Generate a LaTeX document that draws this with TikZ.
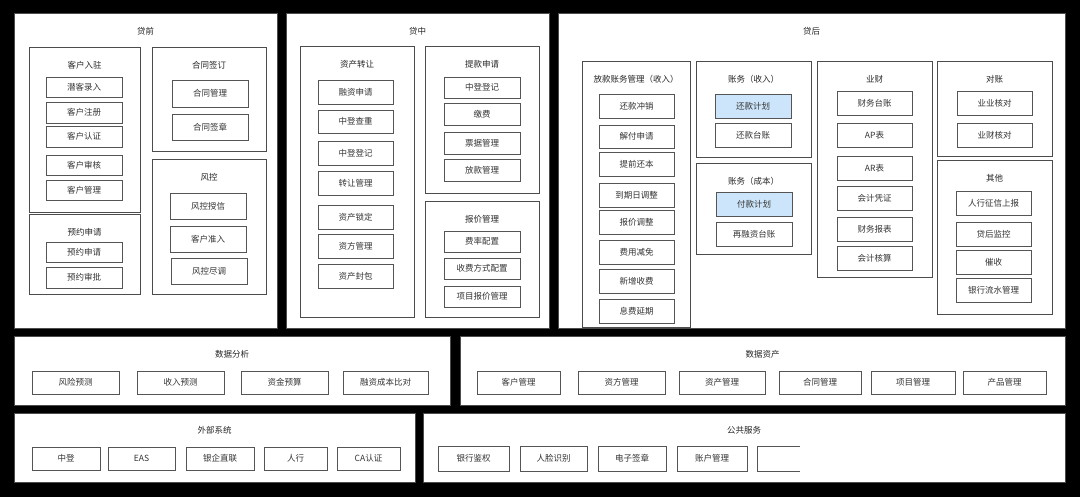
\documentclass[tikz,border=0pt]{standalone}
\usepackage{fontspec}
\setmainfont{Noto Sans CJK SC}
\definecolor{ln}{HTML}{555555}
\definecolor{hl}{HTML}{CCE5FA}
\tikzset{
  itm/.style={draw=ln,line width=0.9pt,fill=white,inner sep=0pt,outer sep=0pt,font=\fontsize{8.5}{10}\selectfont,text=black!80},
  panel/.style={itm,draw=black!70,line width=1pt},
  ttl/.style={font=\fontsize{8.5}{10}\selectfont,text=black!85,inner sep=0pt},
  blu/.style={fill=hl}
}
\newcommand\bx[7][]{\node[itm,#1,minimum width={#5pt-#3pt},minimum height={#6pt-#4pt}] (#2) at ({(#3+#5)/2},{(#4+#6)/2}) {#7};}
\newcommand\pn[6]{\node[panel,minimum width={#5pt-#3pt},minimum height={#6pt-#4pt}] (#1) at ({(#3+#5)/2},{(#4+#6)/2}) {};\node[ttl] (#1t) at ({(#3+#5)/2},{#4+17}) {#2};}
\begin{document}
\begin{tikzpicture}[x=1pt,y=-1pt]
\fill[black] (0,0) rectangle (1080,497);
\useasboundingbox (0,0) rectangle (1080,497);
% 贷前
\pn{pq}{贷前}{14}{14}{277}{329}
\pn{khrz}{客户入驻}{29}{48}{140}{213}
\bx{a1}{46}{77}{122}{97}{潜客录入}
\bx{a2}{46}{102}{122}{123}{客户注册}
\bx{a3}{46}{126}{122}{147}{客户认证}
\bx{a4}{46}{155}{122}{175}{客户审核}
\bx{a5}{46}{180}{122}{200}{客户管理}
\pn{yysq}{预约申请}{29}{215}{140}{295}
\bx{a6}{46}{242}{122}{262}{预约申请}
\bx{a7}{46}{267}{122}{288}{预约审批}
\pn{htqd}{合同签订}{152}{48}{266}{152}
\bx{a8}{172}{80}{248}{107}{合同管理}
\bx{a9}{172}{114}{248}{140}{合同签章}
\pn{fk}{风控}{152}{160}{266}{295}
\bx{a10}{170}{193}{246}{219}{风控授信}
\bx{a11}{170}{226}{246}{252}{客户准入}
\bx{a12}{171}{258}{247}{284}{风控尽调}
% 贷中
\pn{dz}{贷中}{286}{14}{549}{329}
\pn{zczr}{资产转让}{300}{47}{414}{318}
\bx{b1}{318}{80}{393}{104}{融资申请}
\bx{b2}{318}{110}{393}{133}{中登查重}
\bx{b3}{318}{141}{393}{165}{中登登记}
\bx{b4}{318}{171}{393}{195}{转让管理}
\bx{b5}{318}{205}{393}{229}{资产锁定}
\bx{b6}{318}{234}{393}{258}{资方管理}
\bx{b7}{318}{264}{393}{288}{资产封包}
\pn{tksq}{提款申请}{425}{47}{539}{194}
\bx{b8}{444}{77}{520}{98}{中登登记}
\bx{b9}{444}{103}{520}{125}{缴费}
\bx{b10}{444}{132}{520}{154}{票据管理}
\bx{b11}{444}{159}{520}{181}{放款管理}
\pn{bjgl}{报价管理}{425}{202}{539}{318}
\bx{b12}{444}{231}{520}{252}{费率配置}
\bx{b13}{444}{258}{520}{279}{收费方式配置}
\bx{b14}{444}{286}{520}{307}{项目报价管理}
% 贷后
\pn{dh}{贷后}{558}{14}{1065}{329}
\pn{fkzw}{放款账务管理（收入）}{582}{62}{690}{328}
\bx{c1}{599}{94}{674}{118}{还款冲销}
\bx{c2}{599}{125}{674}{148}{解付申请}
\bx{c3}{599}{152}{674}{176}{提前还本}
\bx{c4}{599}{183}{674}{207}{到期日调整}
\bx{c5}{599}{210}{674}{234}{报价调整}
\bx{c6}{599}{240}{674}{264}{费用减免}
\bx{c7}{599}{269}{674}{293}{新增收费}
\bx{c8}{599}{299}{674}{323}{息费延期}
\pn{zwsr}{账务（收入）}{696}{62}{811}{158}
\bx[blu]{c9}{715}{94}{791}{118}{还款计划}
\bx{c10}{715}{123}{791}{147}{还款台账}
\pn{zwcb}{账务（成本）}{696}{164}{811}{255}
\bx[blu]{c11}{716}{192}{792}{216}{付款计划}
\bx{c12}{716}{222}{792}{246}{再融资台账}
\pn{yc}{业财}{817}{62}{932}{278}
\bx{c13}{837}{91}{912}{115}{财务台账}
\bx{c14}{837}{123}{912}{147}{AP表}
\bx{c15}{837}{156}{912}{180}{AR表}
\bx{c16}{837}{186}{912}{210}{会计凭证}
\bx{c17}{837}{217}{912}{241}{财务报表}
\bx{c18}{837}{246}{912}{270}{会计核算}
\pn{dzh}{对账}{937}{62}{1052}{157}
\bx{c19}{957}{91}{1032}{115}{业业核对}
\bx{c20}{957}{123}{1032}{147}{业财核对}
\pn{qt}{其他}{937}{161}{1052}{315}
\bx{c21}{956}{191}{1031}{215}{人行征信上报}
\bx{c22}{956}{222}{1031}{246}{贷后监控}
\bx{c23}{956}{250}{1031}{274}{催收}
\bx{c24}{956}{278}{1031}{302}{银行流水管理}
% 数据分析
\pn{sjfx}{数据分析}{14}{337}{450}{405}
\bx{d1}{32}{371}{119}{394}{风险预测}
\bx{d2}{137}{371}{224}{394}{收入预测}
\bx{d3}{241}{371}{328}{394}{资金预算}
\bx{d4}{343}{371}{428}{394}{融资成本比对}
\pn{sjzc}{数据资产}{460}{337}{1065}{405}
\bx{d5}{477}{371}{560}{394}{客户管理}
\bx{d6}{578}{371}{665}{394}{资方管理}
\bx{d7}{679}{371}{765}{394}{资产管理}
\bx{d8}{779}{371}{861}{394}{合同管理}
\bx{d9}{871}{371}{955}{394}{项目管理}
\bx{d10}{963}{371}{1046}{394}{产品管理}
% 外部系统
\pn{wbxt}{外部系统}{14}{413}{415}{482}
\bx{e1}{32}{447}{100}{470}{中登}
\bx{e2}{108}{447}{175}{470}{EAS}
\bx{e3}{186}{447}{254}{470}{银企直联}
\bx{e4}{264}{447}{327}{470}{人行}
\bx{e5}{337}{447}{400}{470}{CA认证}
\pn{ggfw}{公共服务}{423}{413}{1065}{482}
\bx{e6}{438}{446}{509}{471}{银行鉴权}
\bx{e7}{520}{446}{587}{471}{人脸识别}
\bx{e8}{598}{446}{666}{471}{电子签章}
\bx{e9}{677}{446}{747}{471}{账户管理}
\coordinate (w1) at (800,446);
\coordinate (w2) at (800,471);
\draw[ln,line width=0.9pt] (w1) -- (757,446) -- (757,471) -- (w2);
\end{tikzpicture}
\end{document}
